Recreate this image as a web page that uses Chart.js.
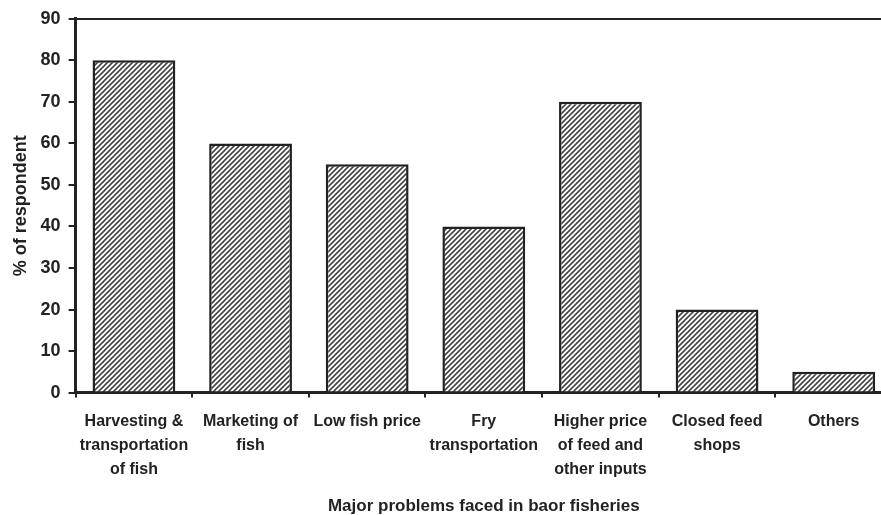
<!DOCTYPE html>
<html>
<head>
<meta charset="utf-8">
<script src="https://cdn.jsdelivr.net/npm/chart.js@4.4.1/dist/chart.umd.min.js"></script>
<style>
  html, body { margin: 0; padding: 0; background: #fff; overflow: hidden; }
  .wrap { width: 900px; height: 517px; }
</style>
</head>
<body>
<div class="wrap"><canvas id="chart1"></canvas></div>
<script>
// categories (multi-line labels as in the figure)
const problems = [
  ["Harvesting &", "transportation", "of fish"],
  ["Marketing of", "fish"],
  ["Low fish price"],
  ["Fry", "transportation"],
  ["Higher price", "of feed and", "other inputs"],
  ["Closed feed", "shops"],
  ["Others"],
];
// % of respondents
const respondents = [80, 60, 55, 40, 70, 20, 5];
const yTicks = [0, 10, 20, 30, 40, 50, 60, 70, 80, 90];

const ink = "#222";

// diagonal hatch fill like the printed figure
function makeHatch() {
  const s = 5;
  const c = document.createElement("canvas");
  c.width = s;
  c.height = s;
  const g = c.getContext("2d");
  g.fillStyle = "#fff";
  g.fillRect(0, 0, s, s);
  g.strokeStyle = "#444";
  g.lineWidth = 1.6;
  g.beginPath();
  g.moveTo(-1, s + 1);
  g.lineTo(s + 1, -1);
  g.moveTo(-1, 1);
  g.lineTo(1, -1);
  g.moveTo(s - 1, s + 1);
  g.lineTo(s + 1, s - 1);
  g.stroke();
  return g.createPattern(c, "repeat");
}

const chart1 = document.getElementById("chart1");
Chart.defaults.font.family = "'Liberation Sans', Arial, sans-serif";
Chart.defaults.font.weight = "bold";
Chart.defaults.color = ink;

new Chart(chart1, {
  type: "bar",
  data: {
    labels: problems,
    datasets: [{
      data: respondents,
      backgroundColor: makeHatch(),
      borderColor: ink,
      borderWidth: 2.5,
      categoryPercentage: 1,
      barPercentage: 0.71,
    }],
  },
  options: {
    responsive: true,
    maintainAspectRatio: false,
    animation: false,
    layout: { padding: { top: 15, right: 8, bottom: 0, left: 10 } },
    plugins: { legend: { display: false }, tooltip: { enabled: false } },
    scales: {
      x: {
        offset: true,
        grid: {
          offset: true,
          drawOnChartArea: false,
          color: ink,
          tickColor: ink,
          tickLength: 5,
          lineWidth: 2,
        },
        border: { color: ink, width: 3 },
        ticks: {
          autoSkip: false,
          maxRotation: 0,
          padding: 12,
          font: { size: 16, weight: "bold", lineHeight: 1.5 },
        },
        title: {
          display: true,
          text: "Major problems faced in baor fisheries",
          font: { size: 17, weight: "bold" },
          padding: { top: 3, bottom: 0 },
        },
      },
      y: {
        min: 0,
        max: 90,
        afterBuildTicks: (axis) => {
          axis.ticks = yTicks.map((v) => ({ value: v }));
        },
        grid: {
          color: (ctx) => (ctx.tick && ctx.tick.value === 90 ? ink : "rgba(0,0,0,0)"),
          tickColor: ink,
          tickLength: 7,
          lineWidth: 2,
        },
        border: { color: ink, width: 3 },
        ticks: {
          padding: 8,
          font: { size: 18, weight: "bold" },
        },
        title: {
          display: true,
          text: "% of respondent",
          font: { size: 18, weight: "bold" },
          padding: { top: 0, bottom: 1 },
        },
      },
    },
  },
});
</script>
</body>
</html>
